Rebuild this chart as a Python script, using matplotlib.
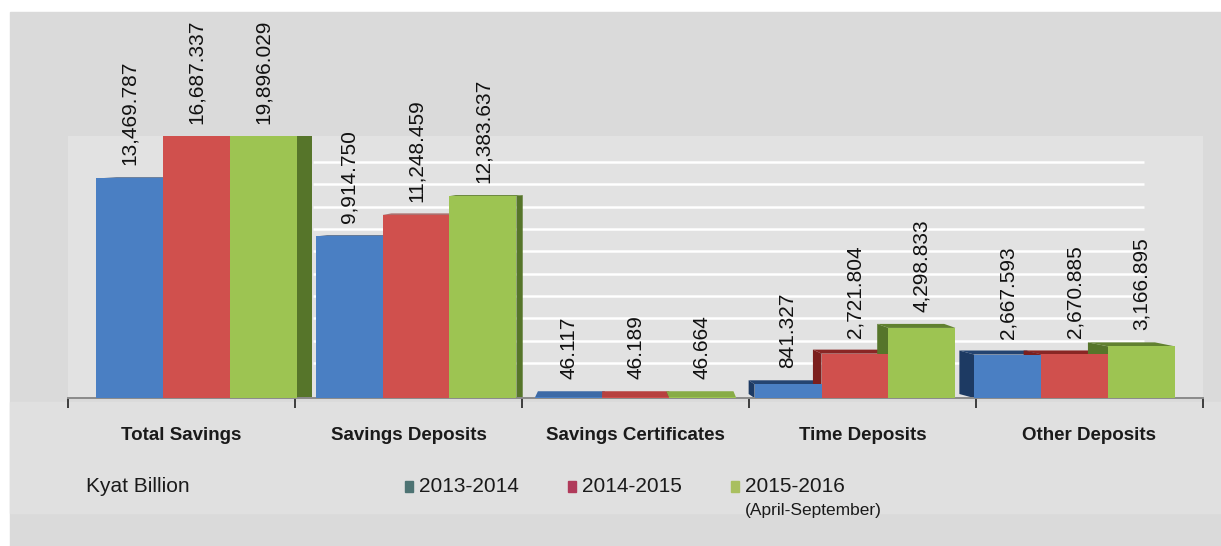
import numpy as np
import matplotlib.pyplot as plt
from matplotlib.patches import Polygon, Rectangle
from matplotlib import font_manager
from matplotlib.colors import to_rgb

categories = ["Total Savings", "Savings Deposits", "Savings Certificates",
              "Time Deposits", "Other Deposits"]
series_names = ["2013-2014", "2014-2015", "2015-2016"]
v_2013 = [13469.787, 9914.750, 46.117, 841.327, 2667.593]
v_2014 = [16687.337, 11248.459, 46.189, 2721.804, 2670.885]
v_2015 = [19896.029, 12383.637, 46.664, 4298.833, 3166.895]
unit_label = "Kyat Billion"
period_note = "(April-September)"

# ---- style ----
front_colors = ["#4a7fc3", "#d0504d", "#9dc452"]
side_colors = ["#1d3a63", "#7c1f1d", "#56752a"]
legend_marker_colors = ["#4d7373", "#b03a5a", "#a9bf5f"]

names = {f.name for f in font_manager.fontManager.ttflist}
narrow = "Liberation Sans Narrow" if "Liberation Sans Narrow" in names else "Liberation Sans"
cat_size = 15 if narrow == "Liberation Sans Narrow" else 13.5
plt.rcParams["font.family"] = ["Liberation Sans", "DejaVu Sans"]

W, H = 1221, 546
fig = plt.figure(figsize=(W / 100, H / 100), dpi=100)
fig.patch.set_facecolor("white")
fig.patches.append(Rectangle((10 / W, 0), 1 - 10 / W, (H - 12) / H,
                             transform=fig.transFigure, color="#dadada", zorder=-10))
fig.patches.append(Rectangle((10 / W, (H - 513) / H), 1 - 10 / W, (513 - 402) / H,
                             transform=fig.transFigure, color="#e0e0e0", zorder=-9))

# axes box in pixels: x 68..1203, y 136..398
ax = fig.add_axes([68 / W, (H - 398) / H, (1203 - 68) / W, (398 - 136) / H])
ax.set_facecolor("#e2e2e2")
ymax = 16070
ax.set_xlim(-0.5, 4.5)
ax.set_ylim(0, ymax)

px_y = ymax / (398 - 136)

# back wall grid
grid_vals = np.arange(2150, 14600, 1370)
ax.hlines(grid_vals, 0.58, 4.24, colors="white", lw=1.8, zorder=1)

# ---- bars with a little 3D depth ----
width = 0.295
vanish = 2.02
top_depth_px = [1, 1, 6, 4, 4]
series = [v_2013, v_2014, v_2015]


def mix(c1, c2, t):
    a, b = np.array(to_rgb(c1)), np.array(to_rgb(c2))
    return tuple(a * (1 - t) + b * t)


fronts = []
for i in range(len(categories)):
    shift = (2 - i) * 0.033
    dy = top_depth_px[i] * px_y
    for j, vals in enumerate(series):
        xc = i + shift + (j - 1) * width
        h = vals[i]
        x0, x1 = xc - width / 2, xc + width / 2
        dx = 0.04 * (vanish - xc)
        xe = x1 if dx >= 0 else x0
        side = [(xe, 0), (xe + dx, dy), (xe + dx, h + dy), (xe, h)]
        top = [(x0, h), (x1, h), (x1 + dx, h + dy), (x0 + dx, h + dy)]
        ax.add_patch(Polygon(side, closed=True, color=side_colors[j], zorder=2, lw=0))
        top_col = mix(front_colors[j], side_colors[j], 0.3 if i == 2 else 0.85)
        ax.add_patch(Polygon(top, closed=True, color=top_col, zorder=2, lw=0))
        fronts.append((xc, h, dy, j))

for xc, h, dy, j in fronts:
    ax.bar(xc, h, width=width, color=front_colors[j], zorder=3, lw=0)
    ytop = min(h + dy, ymax)
    ax.annotate(f"{h:,.3f}", (xc, ytop), xytext=(0, 12), textcoords="offset pixels",
                rotation=90, ha="center", va="bottom", fontsize=15,
                color="#111111", annotation_clip=False, zorder=5)

# ---- axis ----
for s in ["top", "left", "right"]:
    ax.spines[s].set_visible(False)
ax.spines["bottom"].set_color("#8a8a8a")
ax.spines["bottom"].set_linewidth(1.4)
ax.set_yticks([])
ax.set_xticks(np.arange(-0.5, 5, 1), minor=True)
ax.tick_params(axis="x", which="minor", length=7, width=1.2, color="#222222", direction="out")
ax.set_xticks(range(len(categories)))
ax.set_xticklabels(categories, fontfamily=narrow, fontweight="bold", fontsize=cat_size, color="#1a1a1a")
ax.tick_params(axis="x", which="major", length=0, pad=21)

# ---- legend row ----
fig.text(86 / W, (H - 487) / H, unit_label, fontsize=15, va="center", ha="left", color="#1a1a1a")
legend_x = [405, 568, 731]
for k, name in enumerate(series_names):
    fig.patches.append(Rectangle((legend_x[k] / W, (H - 492) / H), 8 / W, 11 / H,
                                 transform=fig.transFigure, color=legend_marker_colors[k]))
    fig.text((legend_x[k] + 14) / W, (H - 487) / H, name, fontsize=15,
             va="center", ha="left", color="#1a1a1a")
fig.text((legend_x[2] + 14) / W, (H - 511) / H, period_note, fontsize=12.5,
         va="center", ha="left", color="#1a1a1a")

fig.savefig("out.png", dpi=100, facecolor=fig.get_facecolor())
